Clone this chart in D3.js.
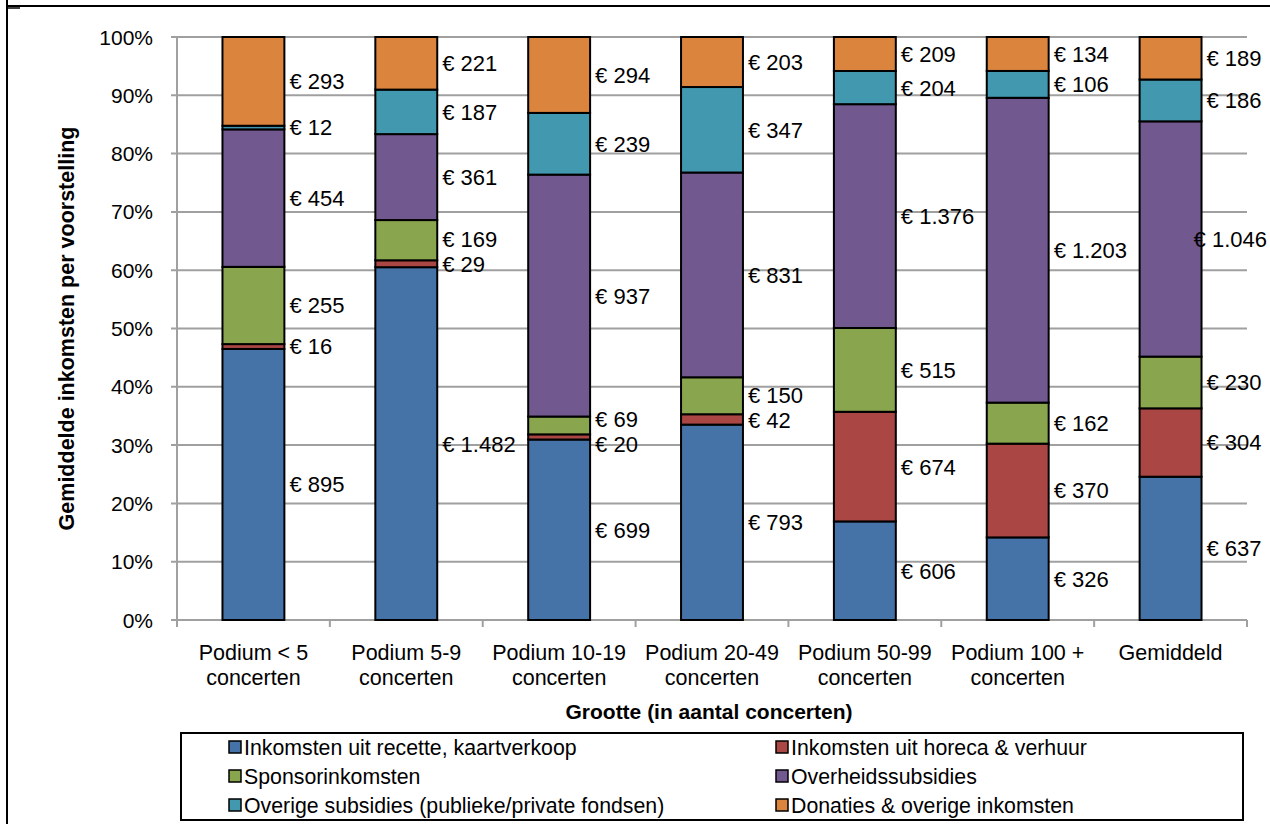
<!DOCTYPE html>
<html>
<head>
<meta charset="utf-8">
<script src="https://cdn.jsdelivr.net/npm/d3@7"></script>
<style>
  html, body { margin: 0; padding: 0; background: #fff; }
  svg { display: block; }
  text { font-family: "Liberation Sans", Arial, Helvetica, sans-serif; fill: #000; }
</style>
</head>
<body>
<svg id="chart" width="1270" height="824"></svg>
<script>
// ---- data ----
const categories = ["Podium < 5\nconcerten", "Podium 5-9\nconcerten", "Podium 10-19\nconcerten",
  "Podium 20-49\nconcerten", "Podium 50-99\nconcerten", "Podium 100 +\nconcerten", "Gemiddeld"];
const seriesNames = ["Inkomsten uit recette, kaartverkoop", "Inkomsten uit horeca & verhuur",
  "Sponsorinkomsten", "Overheidssubsidies", "Overige subsidies (publieke/private fondsen)",
  "Donaties & overige inkomsten"];
const recette  = [895, 1482, 699, 793, 606, 326, 637];
const horeca   = [16, 29, 20, 42, 674, 370, 304];
const sponsor  = [255, 169, 69, 150, 515, 162, 230];
const overheid = [454, 361, 937, 831, 1376, 1203, 1046];
const overige  = [12, 187, 239, 347, 204, 106, 186];
const donaties = [293, 221, 294, 203, 209, 134, 189];
const yTicks = [0, 0.1, 0.2, 0.3, 0.4, 0.5, 0.6, 0.7, 0.8, 0.9, 1.0];
const yTitle = "Gemiddelde inkomsten per voorstelling";
const xTitle = "Grootte (in aantal concerten)";
const colors = ["#4572A7", "#AA4643", "#89A54E", "#71588F", "#4198AF", "#DB843D"];

// ---- build table ----
const seriesValues = [recette, horeca, sponsor, overheid, overige, donaties];
const keys = seriesNames;
const table = categories.map((c, i) => {
  const row = { cat: c };
  keys.forEach((k, j) => row[k] = seriesValues[j][i]);
  return row;
});
const stacked = d3.stack().keys(keys).offset(d3.stackOffsetExpand)(table);

const svg = d3.select("#chart");
const W = 1270;
const plot = { left: 177, right: 1247, top: 37, bottom: 620 };

const x = d3.scaleBand().domain(categories).range([plot.left, plot.right]).padding(0);
const y = d3.scaleLinear().domain([0, 1]).range([plot.bottom, plot.top]);
const barW = x.bandwidth() * 0.405;
const color = d3.scaleOrdinal().domain(keys).range(colors);

const nl = d3.formatLocale({ decimal: ",", thousands: ".", grouping: [3], currency: ["€ ", ""] });
const fmt = nl.format("$,");

// frame
svg.append("line").attr("x1", 7).attr("x2", W).attr("y1", 6).attr("y2", 6)
  .attr("stroke", "#000").attr("stroke-width", 2);
svg.append("line").attr("x1", 7).attr("x2", 7).attr("y1", 0).attr("y2", 824)
  .attr("stroke", "#000").attr("stroke-width", 2);
svg.append("line").attr("x1", 7).attr("x2", 20).attr("y1", 8).attr("y2", 8)
  .attr("stroke", "#000").attr("stroke-width", 1.5);

// gridlines
svg.append("g").selectAll("line").data(yTicks).join("line")
  .attr("x1", plot.left - 6).attr("x2", plot.right)
  .attr("y1", d => y(d)).attr("y2", d => y(d))
  .attr("stroke", "#a0a0a0").attr("stroke-width", 2);

// y axis
svg.append("line").attr("x1", plot.left).attr("x2", plot.left)
  .attr("y1", plot.top).attr("y2", plot.bottom)
  .attr("stroke", "#a0a0a0").attr("stroke-width", 2);
svg.append("g").selectAll("text").data(yTicks).join("text")
  .attr("x", 153).attr("y", d => y(d)).attr("dy", "0.36em")
  .attr("text-anchor", "end").attr("font-size", 21)
  .text(d => d3.format(".0%")(d));

// x axis ticks at boundaries
const bounds = categories.map(c => x(c)).concat([plot.right]);
svg.append("g").selectAll("line").data(bounds).join("line")
  .attr("x1", d => d).attr("x2", d => d)
  .attr("y1", plot.bottom).attr("y2", plot.bottom + 7)
  .attr("stroke", "#a0a0a0").attr("stroke-width", 2);

// bars
const layers = svg.append("g").selectAll("g").data(stacked).join("g")
  .attr("fill", d => color(d.key));
layers.selectAll("rect").data(d => d).join("rect")
  .attr("x", d => x(d.data.cat) + (x.bandwidth() - barW) / 2)
  .attr("width", barW)
  .attr("y", d => y(d[1]))
  .attr("height", d => y(d[0]) - y(d[1]))
  .attr("stroke", "#000").attr("stroke-width", 2);

// labels
const labelG = svg.append("g");
categories.forEach((c, ci) => {
  const items = stacked.map((s, si) => ({
    value: seriesValues[si][ci],
    yc: y((s[ci][0] + s[ci][1]) / 2)
  }));
  const minGap = 25;
  for (let iter = 0; iter < 50; iter++) {
    let moved = false;
    for (let k = 0; k < items.length - 1; k++) {
      const a = items[k], b = items[k + 1];
      const gap = a.yc - b.yc;
      if (gap < minGap) {
        const shift = (minGap - gap) / 2;
        a.yc += shift; b.yc -= shift; moved = true;
      }
    }
    if (!moved) break;
  }
  const barRight = x(c) + (x.bandwidth() + barW) / 2;
  items.forEach(it => {
    const t = labelG.append("text")
      .attr("y", it.yc).attr("dy", "0.36em")
      .attr("font-size", 22)
      .text(fmt(it.value));
    const w = t.node().getComputedTextLength();
    t.attr("x", Math.min(barRight + 5, W - 3 - w));
  });
});

// category labels
const catG = svg.append("g");
categories.forEach(c => {
  const lines = c.split("\n");
  const t = catG.append("text").attr("text-anchor", "middle").attr("font-size", 21.5)
    .attr("x", x(c) + x.bandwidth() / 2).attr("y", 652);
  lines.forEach((l, i) => {
    t.append("tspan").attr("x", x(c) + x.bandwidth() / 2).attr("dy", i === 0 ? "0.36em" : 25).text(l);
  });
});

// axis titles
svg.append("text").attr("x", (plot.left + plot.right) / 2 - 3).attr("y", 711).attr("dy", "0.36em")
  .attr("text-anchor", "middle").attr("font-size", 21).attr("font-weight", "bold").text(xTitle);
svg.append("text").attr("transform", `translate(66,${(plot.top + plot.bottom) / 2}) rotate(-90)`)
  .attr("dy", "0.36em").attr("text-anchor", "middle").attr("font-size", 21.5).attr("font-weight", "bold")
  .text(yTitle);

// legend
const lg = svg.append("g");
lg.append("rect").attr("x", 181).attr("y", 733).attr("width", 1062).attr("height", 87)
  .attr("fill", "#fff").attr("stroke", "#000").attr("stroke-width", 2);
keys.forEach((k, i) => {
  const col = i % 2, row = Math.floor(i / 2);
  const lx = col === 0 ? 229 : 776;
  const ly = 747 + row * 29;
  lg.append("rect").attr("x", lx).attr("y", ly - 6).attr("width", 12).attr("height", 12)
    .attr("fill", color(k)).attr("stroke", "#000").attr("stroke-width", 1.5);
  lg.append("text").attr("x", lx + 15).attr("y", ly).attr("dy", "0.36em")
    .attr("font-size", 21.3).text(k);
});
</script>
</body>
</html>
